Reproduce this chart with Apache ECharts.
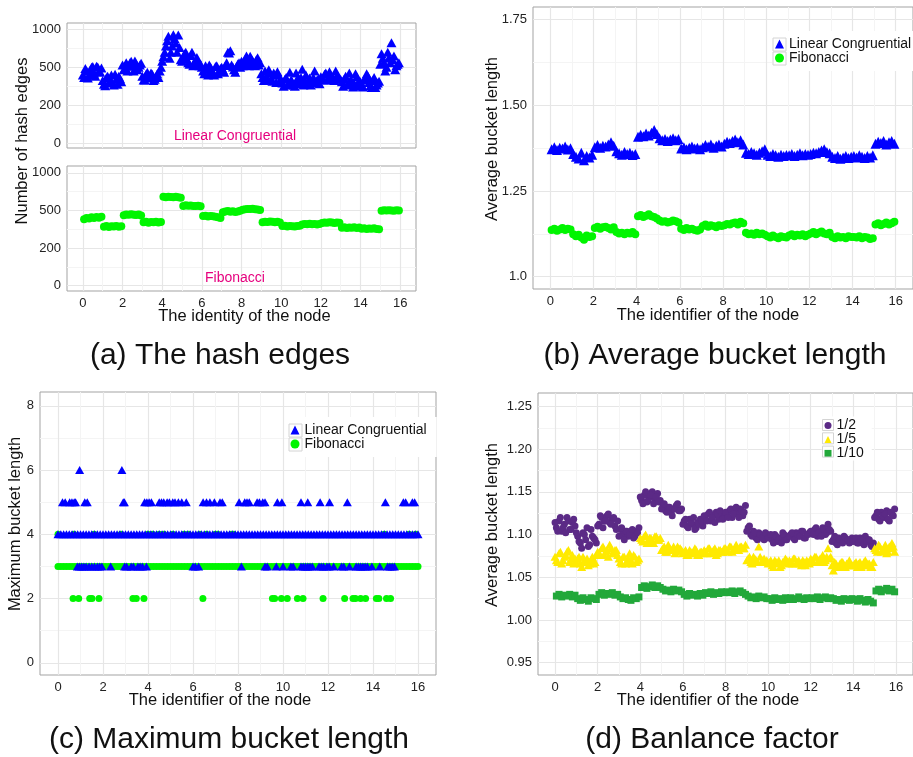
<!DOCTYPE html>
<html><head><meta charset="utf-8">
<script src="https://cdn.jsdelivr.net/npm/echarts@6/dist/echarts.min.js"></script>
<style>html,body{margin:0;padding:0;background:#fff}#c{width:913px;height:757px}</style>
</head><body><div id="c"></div>
<script>
// ---------- tick labels ----------
const nodeTicks = [0,2,4,6,8,10,12,14,16];
const nodeMinor = [1,3,5,7,9,11,13,15];
const edgeTicks = [0,200,500,1000];
const avgTicks = [1.0,1.25,1.5,1.75];
const avgMinor = [1.125,1.375,1.625];
const maxTicks = [0,2,4,6,8];
const maxMinor = [1,3,5,7];
const balTicks = [0.95,1.0,1.05,1.1,1.15,1.2,1.25];
const balMinor = [0.975,1.025,1.075,1.125,1.175,1.225];
const samplesPerNode = 8;

// ---------- (a) number of hash edges, 8 samples per node interval ----------
const lcEdges = [
 420,470,440,500,455,515,470,495, 365,420,380,440,360,405,430,385,
 480,560,515,580,470,545,500,555, 400,445,415,455,395,430,420,500,
 640,780,910,700,930,820,925,600, 640,700,560,655,520,600,570,540,
 470,520,440,505,460,510,450,490, 480,525,700,720,505,460,545,500,
 520,610,560,645,580,520,625,560, 420,470,400,455,390,440,465,400,
 375,405,360,460,385,350,410,370, 485,395,370,415,380,470,400,370,
 410,445,400,465,420,395,435,410, 385,410,360,455,390,370,425,350,
 360,405,450,380,340,420,360,390, 680,560,500,625,825,650,520,560
];
// second run of samples, taken between the first ones
const lcEdges2 = [
 440,490,415,480,510,430,505,460, 395,355,430,400,375,445,365,410,
 530,495,470,560,520,585,480,530, 430,400,460,420,445,405,450,470,
 580,700,850,620,780,880,700,760, 580,680,610,540,700,560,630,520,
 500,450,490,530,470,440,520,470, 500,460,560,690,530,480,510,560,
 580,540,650,520,610,560,600,530, 450,395,430,480,410,455,380,440,
 390,350,420,370,400,360,455,390, 420,360,440,395,360,420,385,410,
 425,400,455,415,440,400,470,425, 405,350,430,370,400,345,450,380,
 385,345,400,430,355,395,340,375, 540,620,470,700,560,600,480,540
];
const fibEdges = [
 430,440,435,445,440,448,442,450, 370,375,368,374,372,376,370,373,
 462,468,465,470,466,463,468,460, 405,410,402,408,406,410,404,407,
 680,675,682,678,676,680,674,670, 560,568,562,565,560,558,562,556,
 455,458,452,456,454,450,446,440, 485,492,495,490,494,488,492,498,
 510,515,520,518,522,516,512,505, 405,410,408,412,410,406,410,404,
 375,378,372,376,374,372,375,378, 388,392,390,394,389,391,388,392,
 400,404,402,406,403,400,404,402, 362,366,360,364,362,365,360,363,
 355,358,352,356,354,357,353,350, 498,502,500,504,500,497,502,500
];
// ---------- (b) average bucket length ----------
const lcAvg = [
 1.372,1.378,1.370,1.376,1.374,1.380,1.371,1.375, 1.358,1.350,1.345,1.362,1.340,1.352,1.348,1.356,
 1.378,1.384,1.376,1.382,1.380,1.386,1.392,1.382, 1.366,1.360,1.356,1.364,1.358,1.362,1.355,1.358,
 1.408,1.414,1.410,1.418,1.412,1.420,1.428,1.416, 1.404,1.398,1.402,1.396,1.400,1.404,1.398,1.402,
 1.374,1.378,1.372,1.376,1.380,1.374,1.376,1.372, 1.378,1.384,1.380,1.386,1.376,1.382,1.386,1.380,
 1.388,1.394,1.390,1.396,1.400,1.392,1.398,1.386, 1.362,1.358,1.364,1.360,1.356,1.362,1.366,1.372,
 1.356,1.352,1.358,1.354,1.350,1.356,1.352,1.355, 1.354,1.358,1.352,1.356,1.360,1.354,1.358,1.356,
 1.358,1.362,1.360,1.364,1.368,1.372,1.364,1.360, 1.350,1.346,1.352,1.344,1.348,1.352,1.346,1.350,
 1.352,1.348,1.354,1.350,1.346,1.352,1.348,1.354, 1.388,1.394,1.390,1.396,1.386,1.392,1.396,1.388
];
const fibAvg = [
 1.136,1.140,1.134,1.138,1.142,1.136,1.140,1.138, 1.124,1.118,1.122,1.114,1.108,1.120,1.116,1.118,
 1.142,1.146,1.140,1.144,1.146,1.142,1.138,1.144, 1.130,1.126,1.128,1.124,1.128,1.126,1.130,1.124,
 1.176,1.180,1.174,1.178,1.182,1.176,1.174,1.170, 1.164,1.160,1.162,1.158,1.160,1.164,1.162,1.158,
 1.140,1.136,1.142,1.138,1.140,1.136,1.134,1.138, 1.148,1.152,1.146,1.150,1.148,1.144,1.150,1.148,
 1.150,1.154,1.152,1.156,1.158,1.152,1.160,1.156, 1.128,1.124,1.126,1.122,1.128,1.124,1.126,1.122,
 1.118,1.114,1.120,1.116,1.112,1.118,1.116,1.114, 1.120,1.124,1.118,1.122,1.120,1.124,1.118,1.122,
 1.126,1.130,1.124,1.128,1.132,1.126,1.124,1.128, 1.116,1.112,1.118,1.114,1.116,1.112,1.118,1.116,
 1.116,1.114,1.118,1.112,1.116,1.114,1.110,1.112, 1.152,1.156,1.150,1.154,1.158,1.152,1.156,1.160
];
// ---------- (c) maximum bucket length ----------
const lcMaxMain = [
 4,4,4,4,4,4,4,4, 4,4,4,4,4,4,4,4, 4,4,4,4,4,4,4,4, 4,4,4,4,4,4,4,4,
 4,4,4,4,4,4,4,4, 4,4,4,4,4,4,4,4, 4,4,4,4,4,4,4,4, 4,4,4,4,4,4,4,4,
 4,4,4,4,4,4,4,4, 4,4,4,4,4,4,4,4, 4,4,4,4,4,4,4,4, 4,4,4,4,4,4,4,4,
 4,4,4,4,4,4,4,4, 4,4,4,4,4,4,4,4, 4,4,4,4,4,4,4,4, 4,4,4,4,4,4,4,4, 4
];
const fibMaxMain = [
 3,3,3,3,3,3,3,3, 3,3,3,3,3,3,3,3, 3,3,3,3,3,3,3,3, 3,3,3,3,3,3,3,3,
 3,3,3,3,3,3,3,3, 3,3,3,3,3,3,3,3, 3,3,3,3,3,3,3,3, 3,3,3,3,3,3,3,3,
 3,3,3,3,3,3,3,3, 3,3,3,3,3,3,3,3, 3,3,3,3,3,3,3,3, 3,3,3,3,3,3,3,3,
 3,3,3,3,3,3,3,3, 3,3,3,3,3,3,3,3, 3,3,3,3,3,3,3,3, 3,3,3,3,3,3,3,3, 3
];
const lcMax5Nodes = [0.2,0.32,0.52,0.62,0.72,0.78,1.19,1.3,2.9,2.95,3.85,3.95,4.05,4.15,4.5,4.6,4.7,4.85,4.95,5.1,5.2,5.35,5.5,5.7,6.45,6.6,6.75,6.95,7.2,7.3,8.05,8.3,8.4,8.5,8.85,8.95,9.1,9.2,9.75,9.95,10.8,11.1,11.65,12.07,12.86,14.55,15.35,15.45,15.75,15.85];
const lcMax6Nodes = [0.96,2.84];
const lcMax3Nodes = [0.86,0.95,1.05,1.15,1.25,1.38,1.5,1.62,1.75,1.85,1.95,2.34,2.96,3.05,3.25,3.35,3.55,3.65,3.75,3.93,6.0,6.1,6.25,8.15,9.2,9.3,9.7,10.0,10.35,10.45,10.8,10.9,11.0,11.1,11.2,11.3,11.6,11.7,11.8,11.95,12.05,12.25,12.6,12.7,12.95,13.25,13.35,13.45,13.55,13.65,13.75,13.95,14.3,14.65,14.75,14.85,14.95];
const fibMax2Nodes = [0.67,0.92,1.41,1.51,1.82,3.33,3.48,3.82,6.44,9.53,9.63,9.93,10.19,10.64,10.89,11.78,12.74,13.11,13.22,13.45,13.67,14.15,14.26,14.6,14.78];
const fibMax4Nodes = [0.0,0.7,1.6,2.8,4.0,4.2,4.5,4.7,5.1,5.6,5.8,6.3,6.6,7.0,7.1,7.7,7.8,14.5,15.6,15.9];
// ---------- (d) balance factor ----------
const half = [
 1.108,1.116,1.104,1.112,1.120,1.106,1.114,1.110, 1.098,1.090,1.102,1.094,1.086,1.106,1.096,1.090,
 1.112,1.120,1.116,1.122,1.114,1.118,1.110,1.116, 1.106,1.100,1.104,1.098,1.102,1.096,1.104,1.108,
 1.140,1.146,1.138,1.144,1.150,1.142,1.148,1.140, 1.134,1.128,1.132,1.126,1.130,1.134,1.128,1.130,
 1.116,1.110,1.118,1.112,1.106,1.114,1.118,1.110, 1.118,1.124,1.116,1.122,1.126,1.118,1.120,1.124,
 1.122,1.128,1.120,1.126,1.124,1.130,1.122,1.134, 1.108,1.100,1.104,1.096,1.102,1.098,1.094,1.100,
 1.098,1.094,1.100,1.092,1.096,1.102,1.094,1.098, 1.100,1.096,1.102,1.098,1.104,1.096,1.100,1.102,
 1.102,1.106,1.098,1.104,1.108,1.100,1.112,1.104, 1.094,1.090,1.096,1.092,1.098,1.094,1.090,1.096,
 1.094,1.090,1.096,1.092,1.098,1.094,1.088,1.090, 1.122,1.118,1.126,1.120,1.128,1.116,1.124,1.130
];
const half2 = [
 1.114,1.104,1.120,1.108,1.102,1.116,1.106,1.118, 1.102,1.092,1.084,1.100,1.108,1.088,1.098,1.094,
 1.110,1.122,1.108,1.116,1.124,1.112,1.120,1.106, 1.098,1.108,1.094,1.104,1.100,1.106,1.098,1.102,
 1.144,1.136,1.150,1.140,1.146,1.136,1.144,1.138, 1.130,1.136,1.126,1.132,1.122,1.130,1.136,1.128,
 1.112,1.118,1.108,1.114,1.120,1.108,1.112,1.116, 1.122,1.116,1.126,1.120,1.114,1.124,1.128,1.118,
 1.126,1.120,1.130,1.124,1.132,1.120,1.128,1.126, 1.104,1.110,1.098,1.102,1.094,1.100,1.096,1.102,
 1.096,1.100,1.090,1.098,1.094,1.090,1.100,1.094, 1.098,1.102,1.094,1.100,1.098,1.104,1.096,1.100,
 1.104,1.100,1.108,1.102,1.098,1.106,1.102,1.106, 1.092,1.098,1.088,1.094,1.090,1.096,1.094,1.092,
 1.092,1.096,1.090,1.094,1.088,1.092,1.094,1.086, 1.120,1.126,1.116,1.122,1.124,1.118,1.126,1.122
];
const fifth = [
 1.070,1.078,1.066,1.074,1.080,1.068,1.076,1.072, 1.072,1.066,1.074,1.068,1.064,1.070,1.066,1.076,
 1.078,1.084,1.076,1.082,1.088,1.078,1.082,1.076, 1.068,1.074,1.066,1.072,1.070,1.076,1.068,1.072,
 1.094,1.098,1.090,1.096,1.092,1.098,1.094,1.096, 1.084,1.080,1.088,1.082,1.086,1.080,1.084,1.082,
 1.080,1.076,1.082,1.078,1.084,1.076,1.080,1.078, 1.080,1.084,1.078,1.082,1.076,1.082,1.080,1.084,
 1.082,1.086,1.080,1.084,1.082,1.086,1.084,1.088, 1.072,1.068,1.074,1.070,1.086,1.068,1.072,1.070,
 1.068,1.064,1.070,1.066,1.062,1.068,1.072,1.066, 1.068,1.072,1.066,1.070,1.064,1.068,1.070,1.066,
 1.070,1.074,1.068,1.072,1.076,1.070,1.084,1.074, 1.058,1.066,1.062,1.068,1.064,1.066,1.070,1.064,
 1.066,1.062,1.068,1.064,1.070,1.066,1.062,1.068, 1.082,1.088,1.080,1.084,1.078,1.086,1.090,1.080
];
const fifth2 = [
 1.074,1.068,1.080,1.070,1.076,1.082,1.072,1.066, 1.068,1.074,1.062,1.070,1.072,1.066,1.074,1.068,
 1.080,1.076,1.086,1.080,1.074,1.084,1.078,1.082, 1.072,1.066,1.074,1.068,1.078,1.066,1.074,1.070,
 1.096,1.092,1.100,1.094,1.096,1.090,1.098,1.094, 1.082,1.086,1.080,1.084,1.082,1.078,1.086,1.084,
 1.078,1.082,1.076,1.080,1.078,1.082,1.076,1.080, 1.082,1.078,1.084,1.080,1.084,1.078,1.082,1.080,
 1.084,1.080,1.086,1.082,1.088,1.082,1.086,1.084, 1.070,1.074,1.066,1.072,1.068,1.074,1.070,1.068,
 1.066,1.070,1.062,1.068,1.070,1.064,1.068,1.070, 1.070,1.066,1.072,1.068,1.066,1.070,1.064,1.068,
 1.072,1.068,1.074,1.070,1.072,1.068,1.074,1.072, 1.064,1.068,1.062,1.066,1.068,1.062,1.066,1.064,
 1.064,1.068,1.066,1.062,1.068,1.064,1.066,1.062, 1.084,1.080,1.086,1.082,1.088,1.080,1.084,1.086
];
const tenth = [
 1.028,1.030,1.027,1.029,1.028,1.030,1.027,1.029, 1.025,1.023,1.026,1.024,1.022,1.026,1.025,1.024,
 1.030,1.032,1.029,1.031,1.030,1.032,1.029,1.030, 1.027,1.025,1.026,1.024,1.023,1.026,1.025,1.027,
 1.038,1.040,1.037,1.039,1.041,1.038,1.040,1.038, 1.036,1.034,1.035,1.033,1.036,1.034,1.035,1.033,
 1.030,1.028,1.031,1.029,1.030,1.028,1.031,1.029, 1.032,1.031,1.033,1.030,1.032,1.031,1.033,1.032,
 1.033,1.032,1.034,1.031,1.033,1.034,1.032,1.030, 1.028,1.026,1.027,1.025,1.028,1.026,1.027,1.025,
 1.025,1.023,1.026,1.024,1.025,1.023,1.026,1.024, 1.026,1.024,1.025,1.027,1.025,1.024,1.026,1.025,
 1.026,1.025,1.027,1.024,1.026,1.027,1.025,1.026, 1.025,1.023,1.024,1.022,1.025,1.024,1.023,1.025,
 1.024,1.022,1.025,1.023,1.021,1.024,1.022,1.020, 1.034,1.036,1.033,1.035,1.037,1.034,1.036,1.033
];

// ---------- helpers ----------
const FONT = '"Liberation Sans", Arial, Helvetica, sans-serif';
const BLUE = '#0000ff', LIME = '#00f500', PINK = '#e6007e';
const PURPLE = '#5b2a86', YELLOW = '#ffea00', GREEN = '#22a83a';

// the hash-edge axis has evenly spaced breaks 0,200,500,1000 (piecewise linear)
function edgeScale(v) {
  let k = 0;
  while (k < edgeTicks.length - 2 && v > edgeTicks[k + 1]) k++;
  return k + (v - edgeTicks[k]) / (edgeTicks[k + 1] - edgeTicks[k]);
}
const bandX = i => i / samplesPerNode + 0.5 / samplesPerNode;
const bandX2 = i => i / samplesPerNode;
const band = (arr, f) => arr.map((v, i) => [bandX(i), f ? f(v) : v]);
const band2 = (arr, f) => arr.map((v, i) => [bandX2(i), f ? f(v) : v]);
const pointX = i => i / samplesPerNode;
const level = (nodes, y) => nodes.map(x => [x, y]);

const grids = [
  {left: 67, top: 23, width: 349, height: 125},
  {left: 67, top: 166, width: 349, height: 125},
  {left: 533, top: 7, width: 386, height: 282},
  {left: 40, top: 392, width: 396, height: 283},
  {left: 538, top: 393, width: 378, height: 282}
];
const yCfg = [
  {min: -0.13, max: 3.17, major: [0,1,2,3], minor: [0.5,1.5,2.5], fmt: v => String(edgeTicks[Math.round(v)])},
  {min: -0.14, max: 3.18, major: [0,1,2,3], minor: [0.5,1.5,2.5], fmt: v => String(edgeTicks[Math.round(v)])},
  {min: 0.964, max: 1.787, major: avgTicks, minor: avgMinor, fmt: v => v === 1 ? '1.0' : v.toFixed(2)},
  {min: -0.38, max: 8.43, major: maxTicks, minor: maxMinor, fmt: v => String(v)},
  {min: 0.9356, max: 1.2657, major: balTicks, minor: balMinor, fmt: v => v.toFixed(2)}
];
const MAJOR = {show: true, lineStyle: {color: '#e6e6e6', width: 1.2}};
const MINOR = {show: true, lineStyle: {color: '#f4f4f4', width: 1}};
const LABEL = {color: '#222', fontSize: 13, fontFamily: FONT};

const xAxis = [], yAxis = [];
grids.forEach((g, gi) => {
  xAxis.push({type: 'value', gridIndex: gi, min: -0.8, max: 16.8, axisLine: {show: false},
    axisTick: {show: false, customValues: nodeTicks},
    axisLabel: Object.assign({show: gi !== 0, customValues: nodeTicks, margin: 6}, LABEL),
    splitLine: MAJOR});
  xAxis.push({type: 'value', gridIndex: gi, min: -0.8, max: 16.8, axisLine: {show: false},
    axisTick: {show: false, customValues: nodeMinor}, axisLabel: {show: false}, splitLine: MINOR});
  const c = yCfg[gi];
  yAxis.push({type: 'value', gridIndex: gi, min: c.min, max: c.max, axisLine: {show: false},
    axisTick: {show: false, customValues: c.major},
    axisLabel: Object.assign({customValues: c.major, margin: 6, formatter: c.fmt}, LABEL),
    splitLine: MAJOR});
  yAxis.push({type: 'value', gridIndex: gi, min: c.min, max: c.max, axisLine: {show: false},
    axisTick: {show: false, customValues: c.minor}, axisLabel: {show: false}, splitLine: MINOR});
});

function sc(name, gi, data, color, symbol, size) {
  return {type: 'scatter', name, xAxisIndex: 2 * gi, yAxisIndex: 2 * gi, data,
    symbol, symbolSize: size, itemStyle: {color, opacity: 1}, emphasis: {disabled: true}, animation: false};
}

const series = [
  sc('Linear Congruential', 0, band(lcEdges, edgeScale).concat(band2(lcEdges2, edgeScale)), BLUE, 'triangle', [10, 9]),
  sc('Fibonacci', 1, band(fibEdges, edgeScale), LIME, 'circle', 8),
  sc('Fibonacci', 2, band(fibAvg), LIME, 'circle', 8),
  sc('Linear Congruential', 2, band(lcAvg), BLUE, 'triangle', [10, 10]),
  sc('Fibonacci', 3, fibMaxMain.map((v, i) => [pointX(i), v]).concat(level(fibMax2Nodes, 2), level(fibMax4Nodes, 4)), LIME, 'circle', 7),
  sc('Linear Congruential', 3, lcMaxMain.map((v, i) => [pointX(i), v]).concat(level(lcMax5Nodes, 5), level(lcMax6Nodes, 6), level(lcMax3Nodes, 3)), BLUE, 'triangle', [9, 8]),
  sc('1/2', 4, band(half).concat(band2(half2)), PURPLE, 'circle', 7),
  sc('1/5', 4, band(fifth).concat(band2(fifth2)), YELLOW, 'triangle', [9, 8]),
  sc('1/10', 4, band(tenth), GREEN, 'rect', 7)
];

const legTxt = {fontSize: 14, lineHeight: 14, color: '#111', fontFamily: FONT};
const legend = [
  {orient: 'vertical', left: 772, top: 31, padding: [6, 10, 6, 3], backgroundColor: '#fff', itemWidth: 9, itemHeight: 9, itemGap: 0,
   textStyle: legTxt, selectedMode: false,
   data: [{name: 'Linear Congruential', icon: 'triangle'}, {name: 'Fibonacci', icon: 'circle'}]},
  {orient: 'vertical', left: 288.5, top: 417, padding: [6, 10, 6, 2], backgroundColor: '#fff', itemWidth: 9, itemHeight: 9, itemGap: 0,
   textStyle: legTxt, selectedMode: false,
   data: [{name: 'Linear Congruential', icon: 'triangle'}, {name: 'Fibonacci', icon: 'circle'}]},
  {orient: 'vertical', left: 821.7, top: 416.4, padding: [2, 8, 0, 2.8], backgroundColor: '#fff', itemWidth: 7, itemHeight: 7, itemGap: 0,
   textStyle: Object.assign({}, legTxt, {lineHeight: 13.3}), selectedMode: false,
   data: [{name: '1/2', icon: 'circle'}, {name: '1/5', icon: 'triangle'}, {name: '1/10', icon: 'rect'}]}
];

function txt(text, x, y, size, fill) {
  return {type: 'text', x, y, silent: true, z: 20,
    style: {text, fill: fill || '#111', fontSize: size, fontFamily: FONT, align: 'center', verticalAlign: 'middle',
      textAlign: 'center', textVerticalAlign: 'middle'}};
}
function vtxt(text, x, y, size) {
  return Object.assign(txt(text, x, y, size), {rotation: Math.PI / 2});
}
function keyBox(x, y, s) {
  return {type: 'rect', shape: {x, y, width: s, height: s}, z: 20, silent: true,
    style: {fill: 'none', stroke: '#d4d4d4', lineWidth: 1}};
}

const graphic = [
  txt('Linear Congruential', 235, 136, 14, PINK),
  txt('Fibonacci', 235, 278, 14, PINK),
  txt('The identity of the node', 244.5, 316, 16.5),
  vtxt('Number of hash edges', 22, 141, 16.5),
  txt('The identifier of the node', 708, 315, 16.5),
  vtxt('Average bucket length', 492, 139, 16.5),
  txt('The identifier of the node', 220, 700, 16.5),
  vtxt('Maximum bucket length', 15, 524, 16.5),
  txt('The identifier of the node', 708, 700, 16.5),
  vtxt('Average bucket length', 492, 525, 16.5),
  txt('(a) The hash edges', 220, 356, 30),
  txt('(b) Average bucket length', 715, 356, 30),
  txt('(c) Maximum bucket length', 229, 740, 30),
  txt('(d) Banlance factor', 712, 740, 30),
  keyBox(773, 38, 13), keyBox(773, 52, 13),
  keyBox(289, 424, 13), keyBox(289, 438, 13),
  keyBox(822.5, 419.5, 11), keyBox(822.5, 432.8, 11), keyBox(822.5, 446.1, 11)
];

const chart = echarts.init(document.getElementById('c'), null, {renderer: 'canvas'});
chart.setOption({
  animation: false,
  backgroundColor: '#fff',
  grid: grids.map(g => Object.assign({show: true, borderColor: '#a3a3a3', borderWidth: 1, containLabel: false}, g)),
  xAxis, yAxis, series, legend, graphic
});
</script></body></html>
